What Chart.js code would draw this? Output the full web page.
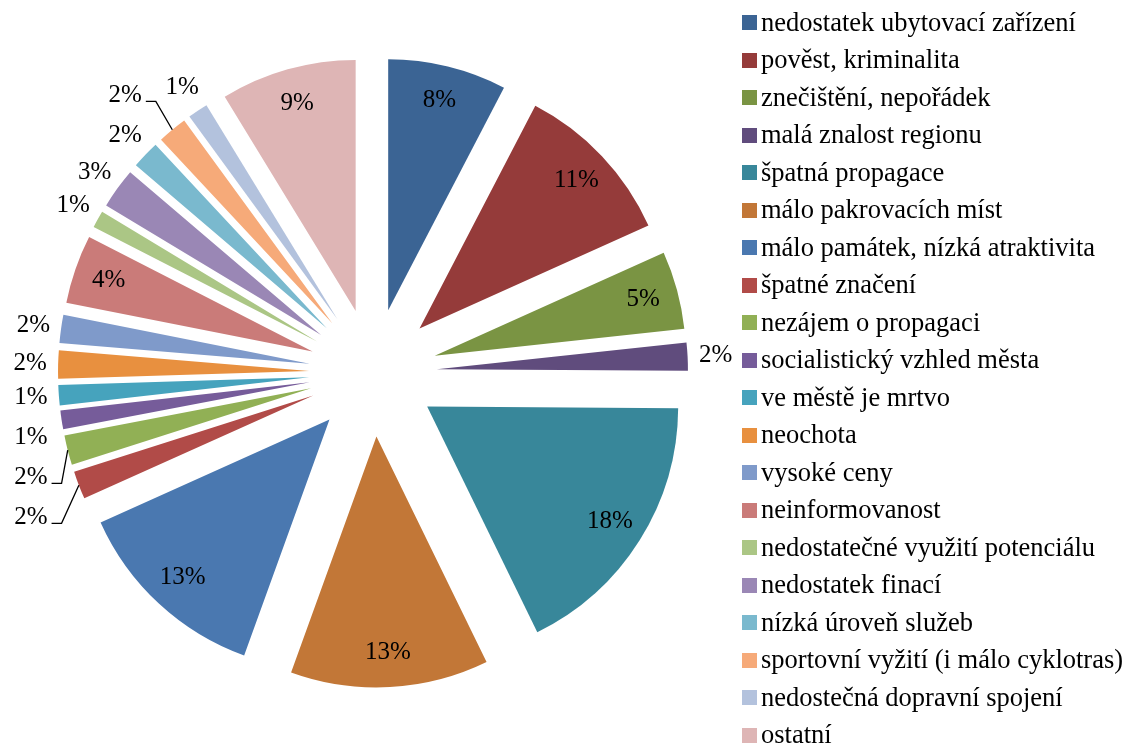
<!DOCTYPE html>
<html>
<head>
<meta charset="utf-8">
<script src="https://cdn.jsdelivr.net/npm/chart.js@4"></script>
<style>
  html, body { margin: 0; padding: 0; background: #fff; }
  #wrap { position: relative; width: 1125px; height: 744px; }
  #legend { position: absolute; left: 742px; top: 0; font-family: "Liberation Serif", "Times New Roman", serif; font-size: 26.5px; color: #000; }
  .item { position: absolute; left: 0; height: 37.5px; line-height: 37.5px; white-space: nowrap; }
  .box { position: absolute; left: 0; top: 11.25px; width: 15px; height: 15px; }
  .txt { position: absolute; left: 19px; top: 0; }
</style>
</head>
<body>
<div id="wrap">
  <canvas id="pie" width="1125" height="744"></canvas>
  <div id="legend"></div>
</div>
<script>
const categories = [
  'nedostatek ubytovací zařízení',
  'pověst, kriminalita',
  'znečištění, nepořádek',
  'malá znalost regionu',
  'špatná propagace',
  'málo pakrovacích míst',
  'málo památek, nízká atraktivita',
  'špatné značení',
  'nezájem o propagaci',
  'socialistický vzhled města',
  've městě je mrtvo',
  'neochota',
  'vysoké ceny',
  'neinformovanost',
  'nedostatečné využití potenciálu',
  'nedostatek finací',
  'nízká úroveň služeb',
  'sportovní vyžití (i málo cyklotras)',
  'nedostečná dopravní spojení',
  'ostatní'
];
// share of answers in %
const shares = [7.6, 10.6, 5.0, 1.8, 17.6, 12.7, 12.7, 1.8, 1.9, 1.2,
                1.3, 1.8, 1.8, 4.4, 1.1, 2.6, 1.8, 1.9, 1.3, 8.7];
const colors = [
  '#3b6494', '#953b3a', '#7a9443', '#604c7d', '#38879a', '#c27737',
  '#4a78b0', '#b14b48', '#91b055', '#765c9a', '#46a3bd', '#e8903f',
  '#7f9aca', '#ca7b79', '#abc685', '#9a87b5', '#7ab9ce', '#f6aa79',
  '#b3c2dd', '#deb5b5'
];

const explode = 64;          // px every slice is pulled out
const insideMin = 4;         // slices from this share get their label inside
const labelFont = '25px "Liberation Serif", "Times New Roman", serif';
const hitGap = 33;           // labels closer than this (vertically) collide
const stackGap = 40;         // a moved label sits this far from the one it hit

// pull every slice out along its middle angle
const explodePlugin = {
  id: 'explode',
  afterDatasetUpdate(chart, args) {
    const a = chart.chartArea;
    const cx = (a.left + a.right) / 2, cy = (a.top + a.bottom) / 2;
    args.meta.data.forEach(arc => {
      const mid = (arc.startAngle + arc.endAngle) / 2;
      arc.x = cx + explode * Math.cos(mid);
      arc.y = cy + explode * Math.sin(mid);
    });
  }
};

const pctLabels = {
  id: 'pctLabels',
  afterDatasetsDraw(chart) {
    const ctx = chart.ctx;
    const arcs = chart.getDatasetMeta(0).data;
    const values = chart.data.datasets[0].data;
    ctx.save();
    ctx.font = labelFont;
    ctx.fillStyle = '#000';
    ctx.strokeStyle = '#000';
    ctx.lineWidth = 1.3;
    ctx.textAlign = 'center';
    ctx.textBaseline = 'middle';

    const items = arcs.map((arc, i) => {
      const mid = (arc.startAngle + arc.endAngle) / 2;
      const dx = Math.cos(mid), dy = Math.sin(mid);
      const R = arc.outerRadius;
      const text = Math.round(values[i]) + '%';
      const inside = values[i] >= insideMin;
      const dist = inside ? R * 0.86 : R + 28;
      return {
        dx, dy, text, inside,
        w: ctx.measureText(text).width,
        bx: arc.x + dx * dist, by: arc.y + dy * dist,
        ex: arc.x + dx * R, ey: arc.y + dy * R
      };
    });

    // outside labels: nearest to the horizontal first; one that hits a placed
    // label is stacked above / below that label
    const fromHoriz = o => Math.abs(o.dy);
    const outside = items.filter(o => !o.inside).sort((a, b) => fromHoriz(a) - fromHoriz(b));
    const placed = [];
    outside.forEach(o => {
      o.x = o.bx; o.y = o.by;
      const dir = o.dy >= 0 ? 1 : -1;
      for (let n = 0; n < 20; n++) {
        const p = placed.find(q =>
          Math.abs(q.x - o.x) < (q.w + o.w) / 2 + 6 && Math.abs(q.y - o.y) < hitGap);
        if (!p) break;
        o.x = p.x;
        o.y = p.y + dir * stackGap;
      }
      placed.push(o);
    });

    items.forEach(o => {
      if (o.inside) { o.x = o.bx; o.y = o.by; }
      ctx.fillText(o.text, o.x, o.y);
      if (!o.inside && Math.hypot(o.x - o.bx, o.y - o.by) > 18) {
        const side = o.x < o.ex ? 1 : -1;
        const sx = o.x + side * (o.w / 2 + 4), sy = o.y + 6;
        ctx.beginPath();
        ctx.moveTo(sx, sy);
        ctx.lineTo(sx + side * 10, sy);
        ctx.lineTo(o.ex, o.ey);
        ctx.stroke();
      }
    });
    ctx.restore();
  }
};

const chart = new Chart(document.getElementById('pie'), {
  type: 'pie',
  data: {
    labels: categories,
    datasets: [{
      data: shares,
      backgroundColor: colors,
      borderWidth: 0,
      hoverOffset: 0
    }]
  },
  options: {
    responsive: false,
    animation: false,
    layout: { padding: { left: 122, right: 501, top: 121.5, bottom: 120.5 } },
    plugins: {
      legend: { display: false },
      tooltip: { enabled: false }
    }
  },
  plugins: [explodePlugin, pctLabels]
});

// legend as html, built from the chart
const legend = document.getElementById('legend');
chart.data.labels.forEach((name, i) => {
  const row = document.createElement('div');
  row.className = 'item';
  row.style.top = (3.75 + i * 37.5) + 'px';
  const box = document.createElement('span');
  box.className = 'box';
  box.style.background = chart.data.datasets[0].backgroundColor[i];
  const txt = document.createElement('span');
  txt.className = 'txt';
  txt.textContent = name;
  row.appendChild(box);
  row.appendChild(txt);
  legend.appendChild(row);
});
</script>
</body>
</html>
